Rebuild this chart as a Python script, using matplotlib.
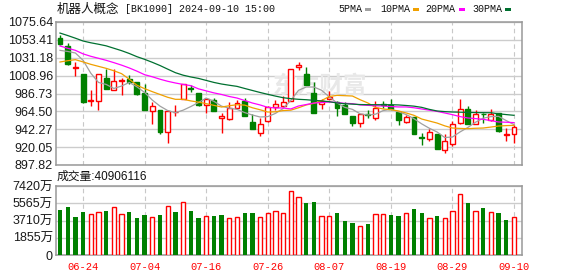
import matplotlib.pyplot as plt
from matplotlib.patches import Rectangle

# daily candles for the index, 60 trading days ending 2024-09-10
opens = [1055.7, 1045.8, 1018.4, 1010.6, 977.5, 977.0, 1006.0, 990.7, 1001.9, 1004.3,
         1000.6, 987.4, 964.6, 966.6, 938.4, 963.3, 980.3, 993.0, 987.4, 972.8,
         978.2, 955.8, 955.4, 969.1, 977.4, 951.3, 937.6, 952.1, 969.9, 971.2,
         977.0, 1020.1, 1011.0, 987.8, 973.3, 980.3, 976.2, 972.0, 958.7, 950.0,
         960.8, 956.7, 973.3, 972.0, 963.7, 951.3, 957.5, 932.6, 930.6, 935.9,
         916.0, 923.5, 950.0, 967.0, 949.2, 961.6, 953.4, 962.5, 935.5, 936.8]
closes = [1048.7, 1023.8, 1019.7, 976.2, 978.2, 1010.6, 992.7, 1001.9, 1003.9, 1001.0,
          985.7, 966.6, 970.8, 938.9, 964.9, 963.8, 998.1, 992.0, 972.8, 979.5,
          964.6, 958.3, 968.7, 975.3, 958.3, 943.0, 948.4, 969.9, 973.3, 976.6,
          1016.8, 1021.8, 996.9, 962.5, 977.4, 982.4, 969.1, 961.6, 950.5, 960.8,
          959.9, 969.1, 972.0, 967.0, 954.2, 957.9, 936.8, 931.8, 938.9, 918.1,
          927.6, 948.4, 967.9, 949.2, 961.2, 960.8, 961.5, 939.7, 936.3, 945.1]
highs = [1059.9, 1049.5, 1025.9, 1010.6, 990.7, 1010.6, 1017.6, 1016.8, 1006.0, 1009.3,
         1000.6, 998.1, 976.2, 966.6, 965.8, 972.0, 998.5, 996.9, 987.4, 979.5,
         981.1, 962.5, 976.2, 979.1, 981.1, 961.6, 956.7, 970.8, 978.2, 983.6,
         1016.8, 1025.9, 1019.7, 1001.0, 979.5, 989.8, 977.4, 976.2, 958.7, 960.8,
         965.8, 977.0, 977.4, 980.3, 963.7, 959.6, 957.5, 937.6, 942.2, 935.9,
         935.9, 952.5, 979.5, 971.2, 965.8, 962.9, 967.0, 962.5, 943.8, 948.0]
lows = [1047.5, 1022.6, 1008.1, 974.9, 970.8, 966.6, 992.7, 990.7, 984.4, 998.9,
        985.3, 965.8, 949.2, 936.8, 925.6, 958.7, 979.5, 988.6, 970.8, 962.9,
        964.6, 938.0, 954.2, 968.7, 958.3, 942.2, 933.5, 951.3, 965.8, 969.9,
        977.0, 1016.4, 996.9, 962.5, 967.0, 979.5, 958.3, 961.6, 946.7, 945.5,
        956.7, 953.4, 968.7, 967.0, 948.0, 949.6, 935.9, 922.3, 928.1, 917.3,
        913.2, 921.4, 948.8, 949.2, 949.2, 950.5, 952.1, 938.9, 927.2, 925.6]

# moving averages as drawn on the chart
ma5 = [1040.4, 1039.0, 1037.1, 1028.0, 1012.0, 1000.5, 998.0, 993.0, 996.0, 1000.5,
       995.0, 988.0, 978.5, 971.0, 965.5, 962.9, 966.0, 970.5, 975.5, 981.1,
       977.0, 971.0, 968.5, 967.0, 963.0, 960.0, 957.5, 958.0, 962.0, 968.0,
       978.2, 990.7, 994.8, 994.8, 990.7, 982.5, 975.0, 969.5, 967.0, 961.5,
       960.0, 961.0, 965.5, 967.0, 964.0, 960.5, 955.4, 949.0, 943.5, 938.9,
       932.0, 932.6, 939.0, 944.5, 951.0, 956.0, 958.0, 958.3, 953.0, 948.0]
ma10 = [1025.9, 1027.5, 1028.8, 1026.0, 1023.0, 1020.5, 1018.0, 1015.0, 1011.4, 1004.5,
        997.0, 992.7, 989.0, 985.5, 982.0, 979.5, 979.5, 977.5, 976.0, 974.1,
        972.0, 969.9, 971.5, 972.8, 972.3, 969.0, 966.5, 963.7, 964.0, 965.5,
        966.0, 969.0, 972.5, 974.5, 978.0, 983.0, 984.4, 984.0, 983.6, 979.0,
        975.0, 969.5, 967.5, 966.6, 965.0, 962.5, 959.6, 955.0, 952.5, 950.0,
        946.5, 943.8, 943.3, 943.0, 943.5, 943.8, 945.0, 946.3, 946.8, 947.1]
ma20 = [1045.8, 1043.0, 1040.4, 1036.0, 1033.0, 1030.5, 1028.0, 1025.1, 1022.0, 1018.5,
        1014.5, 1010.1, 1007.5, 1004.5, 1001.9, 999.8, 998.0, 996.5, 992.5, 990.0,
        987.5, 985.5, 983.0, 981.1, 978.0, 974.9, 972.5, 969.5, 968.8, 968.7,
        967.5, 971.2, 973.0, 974.9, 975.5, 976.2, 975.5, 974.5, 974.1, 972.5,
        972.0, 971.5, 971.2, 970.5, 970.0, 970.0, 969.0, 967.5, 966.0, 964.5,
        962.5, 960.4, 958.0, 956.3, 955.5, 954.6, 953.0, 951.3, 951.0, 950.5]
ma30 = [1061.9, 1058.8, 1055.5, 1052.0, 1049.8, 1048.0, 1046.0, 1043.0, 1040.0, 1036.5,
        1032.5, 1029.2, 1025.5, 1021.5, 1017.0, 1012.6, 1009.5, 1007.3, 1005.5, 1003.0,
        1000.5, 998.5, 997.0, 995.6, 993.0, 990.5, 988.0, 985.7, 983.5, 981.5,
        980.3, 979.5, 979.0, 978.2, 977.5, 976.5, 975.0, 974.0, 973.5, 973.0,
        972.8, 972.8, 972.8, 972.8, 972.5, 971.8, 971.0, 969.5, 967.0, 965.0,
        964.2, 963.7, 963.5, 963.2, 963.0, 962.9, 962.8, 961.5, 960.5, 959.6]

# volume in units of 10k (万)
volumes = [4838, 5160, 4085, 4623, 4408, 4587, 4730, 5124, 4408, 4623,
           3978, 4300, 4049, 4300, 5232, 4623, 5662, 4730, 3978, 4157,
           4193, 4300, 3942, 4049, 4515, 4515, 4049, 4515, 4694, 4515,
           6845, 6199, 5590, 5698, 4157, 4157, 4515, 3655, 3440, 3082,
           3333, 4372, 4372, 4300, 4193, 4479, 4945, 4515, 3942, 4193,
           3942, 4694, 6522, 5590, 4694, 5052, 4587, 4515, 3763, 4090.6]

price_ticks = [897.82, 920.05, 942.27, 964.50, 986.73, 1008.96, 1031.18, 1053.41, 1075.64]
vol_ticks = [0, 1855, 3710, 5565, 7420]
date_idx = [3, 11, 19, 27, 35, 43, 51, 59]
date_labels = ['06-24', '07-04', '07-16', '07-26', '08-07', '08-19', '08-29', '09-10']

ma_names = ['5PMA', '10PMA', '20PMA', '30PMA']
ma_colors = ['#a0a0a0', '#f0a000', '#ff00ff', '#007030']

RED = '#ff0000'
GREEN = '#008000'
W, H = 578, 276


def fx(x):
    return x / W


def fy(y):
    return 1 - y / H


fig = plt.figure(figsize=(W / 100, H / 100), dpi=100)
ax = fig.add_axes([fx(56), fy(165), fx(466), 143 / H])
axv = fig.add_axes([fx(56), fy(255), fx(466), 69 / H])

n = len(closes)
xs = list(range(n))

# candles: red hollow for up days, green filled for down days
for i in xs:
    o, c = opens[i], closes[i]
    up = c >= o
    col = RED if up else GREEN
    ax.vlines(i, lows[i], highs[i], color=col, lw=1.0, zorder=2)
    body = max(abs(c - o), 0.7)
    ax.bar(i, body, bottom=min(o, c), width=0.64,
           facecolor='white' if up else GREEN, edgecolor=col, lw=1.0, zorder=3)

for vals, col in zip([ma5, ma10, ma20, ma30], ma_colors):
    ax.plot(xs, vals, color=col, lw=0.9, zorder=4)

# volume bars, coloured by change against the previous close
for i in xs:
    up = i > 0 and closes[i] >= closes[i - 1]
    if up:
        axv.bar(i, volumes[i], width=0.56, facecolor='white', edgecolor=RED, lw=1.0, zorder=3)
    else:
        axv.bar(i, volumes[i], width=0.56, color=GREEN, lw=0, zorder=3)

for a in (ax, axv):
    a.set_xlim(-0.52, 60.04)
    a.set_xticks(date_idx)
    a.set_axisbelow(True)
    a.yaxis.grid(True, color='#cccccc', lw=1.0, ls='-')
    a.xaxis.grid(True, color='#c8c8c8', lw=0.8, ls=(0, (4, 3)))
    a.tick_params(length=0, pad=2.2, labelsize=9, labelcolor='#1a1a1a')
    for s in a.spines.values():
        s.set_color('#999999')
        s.set_linewidth(1.1)
    for t in a.get_yticklabels():
        t.set_family('Liberation Sans')

ax.set_ylim(price_ticks[0], price_ticks[-1])
ax.set_yticks(price_ticks)
ax.set_yticklabels(['%.2f' % v for v in price_ticks], family='Liberation Sans')
ax.set_xticklabels([])

axv.set_ylim(0, vol_ticks[-1])
axv.set_yticks(vol_ticks)
axv.set_yticklabels(['0'] + ['%d万' % v for v in vol_ticks[1:]],
                    family=['Liberation Sans', 'Noto Sans CJK SC'])
axv.set_xticklabels(date_labels, family='Liberation Mono', fontsize=7.5, color=RED)
axv.tick_params(axis='x', pad=5, labelcolor=RED)

# faint watermark
ax.text(0.566, 0.555, '东方财富', transform=ax.transAxes, ha='center', va='center',
        fontsize=17, fontweight='bold', color='#e8e8e8', family='Noto Sans CJK SC', zorder=1)

# title and legend
fig.text(fx(57), fy(9), '机器人概念', family='Noto Sans CJK SC', fontsize=9,
         ha='left', va='center', color='#111111')
fig.text(fx(125), fy(9), '[BK1090] 2024-09-10 15:00', family='Liberation Mono',
         fontsize=7.2, ha='left', va='center', color='#111111')

legend_text_x = [338, 380, 425, 472]
legend_swatch_x = [365, 413, 459, 505]
for name, col, tx, sx in zip(ma_names, ma_colors, legend_text_x, legend_swatch_x):
    fig.text(fx(tx), fy(9), name, family='Liberation Mono', fontsize=7.2,
             ha='left', va='center', color='#111111')
    fig.add_artist(Rectangle((fx(sx), fy(11)), fx(6), 3 / H,
                             transform=fig.transFigure, color=col, lw=0))

fig.text(fx(57), fy(177), '成交量:40906116', family=['Liberation Sans', 'Noto Sans CJK SC'],
         fontsize=8.5, ha='left', va='center', color='#111111')

fig.savefig('out.png', dpi=100)
